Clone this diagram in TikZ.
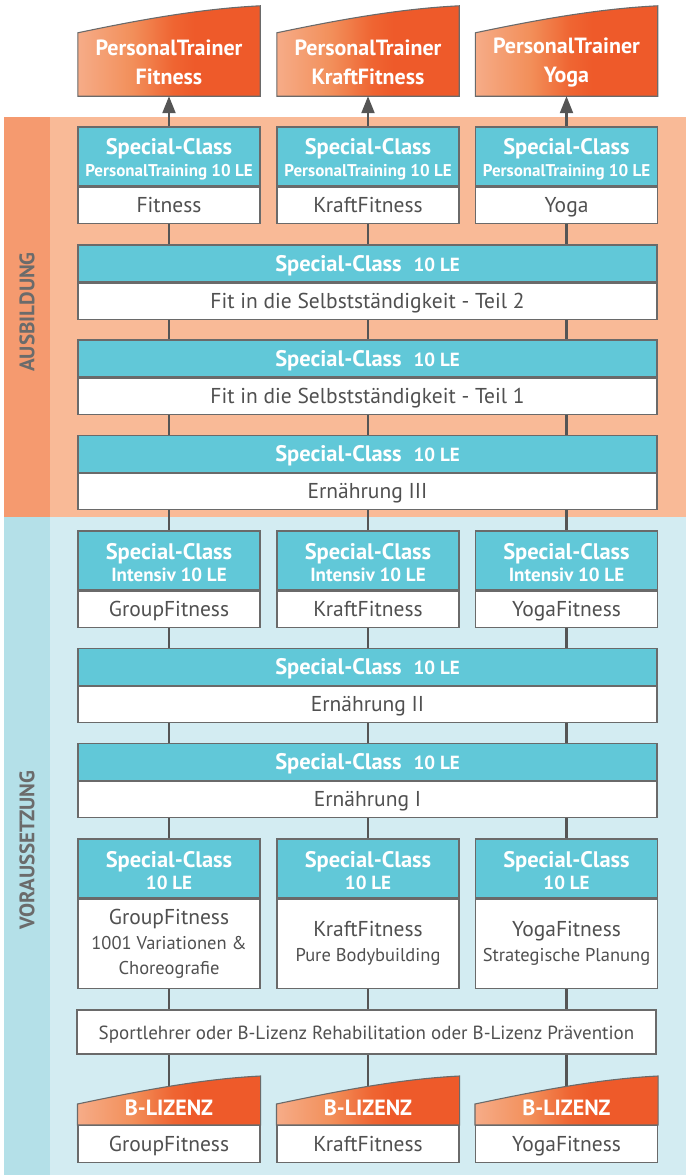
\documentclass[tikz,border=0pt]{standalone}
\usepackage{fontspec}
\setmainfont{PT Sans}
\usetikzlibrary{arrows.meta,calc}
\definecolor{orMain}{HTML}{F9BA97}
\definecolor{orStrip}{HTML}{F59A6F}
\definecolor{blMain}{HTML}{D3ECF2}
\definecolor{blStrip}{HTML}{B4E0E8}
\definecolor{hblue}{HTML}{61C8D8}
\definecolor{bordergray}{HTML}{6A6A6A}
\definecolor{linegray}{HTML}{555555}
\definecolor{txtgray}{HTML}{505050}
\definecolor{labgray}{HTML}{6B6B6B}
\definecolor{tkA}{HTML}{F6AC88}
\definecolor{tkB}{HTML}{F28F5A}
\definecolor{tkC}{HTML}{EF6532}
\definecolor{tkD}{HTML}{EE5A2A}
\pgfdeclarehorizontalshading{tickshade}{100bp}{color(0bp)=(tkA); color(25bp)=(tkA); color(40bp)=(tkB); color(51bp)=(tkC); color(57bp)=(tkD); color(100bp)=(tkD)}
\pgfdeclarelayer{bands}
\pgfdeclarelayer{lines}
\pgfdeclarelayer{shapes}
\pgfsetlayers{bands,lines,shapes,main}
\newcommand\subl{\fontsize{17}{22}\selectfont}
\newcommand\subm{\fontsize{19}{22}\selectfont}
\newcommand\smallbody{\fontsize{18.5}{25}\selectfont}
\newcommand\hstrut{\rule{0pt}{21pt}}
\tikzset{
  conn/.style={draw=linegray, line width=2.2pt},
  hdr/.style={draw=bordergray, line width=1.1pt, fill=hblue, text=white, align=center, inner sep=0pt, font=\bfseries\fontsize{22.5}{22}\selectfont},
  narrowhdr/.style={hdr, minimum width=182, minimum height=59},
  widehdr/.style={hdr, minimum width=579, minimum height=37, text height=16pt, text depth=1pt},
  bodybase/.style={draw=bordergray, line width=1.1pt, fill=white, text=txtgray, align=center, inner sep=0pt, anchor=north, font=\fontsize{21.5}{25}\selectfont},
  bodybox/.style={bodybase, text height=17pt, text depth=2.5pt},
  narrowbody/.style={bodybox, minimum width=182, minimum height=36},
  widebody/.style={bodybox, minimum width=579, minimum height=36},
  bigbody/.style={bodybase, minimum width=182, minimum height=89},
  tkbox/.style={inner sep=0pt, minimum width=182, minimum height=63},
  tktext/.style={text=white, align=center, inner sep=0pt, font=\bfseries\fontsize{22}{29}\selectfont},
  bltext/.style={text=white, inner sep=0pt, font=\bfseries\fontsize{22}{24}\selectfont},
  tickfill/.style={shading=tickshade, draw=bordergray, line width=1.1pt},
  vlabel/.style={text=labgray, rotate=90, font=\bfseries\fontsize{21}{22}\selectfont},
}
\begin{document}
\begin{tikzpicture}[x=1pt, y=-1pt]
\useasboundingbox (0,0) rectangle (686,1175);
% column coordinates
\coordinate (col1) at (169,0);
\coordinate (col2) at (368,0);
\coordinate (col3) at (566.5,0);
% top tickets
\foreach \c/\t in {1/Fitness, 2/KraftFitness, 3/Yoga}{
  \node[tkbox] (tk\c) at (col\c |- 0,64.5) {};
  \node[tktext] (tt\c) at ($(tk\c.center)+(0,-2)$) {PersonalTrainer\\\t};
}
% personal training classes
\foreach \c/\t in {1/Fitness, 2/KraftFitness, 3/Yoga}{
  \node[narrowhdr] (ph\c) at (col\c |- 0,156.5) {\hstrut Special-Class\\{\subl PersonalTraining 10 LE}};
  \node[narrowbody] (pb\c) at (ph\c.south) {\t};
}
% wide boxes
\node[widehdr] (w1h) at (367.5,263.5) {Special-Class\hspace{12pt}{\subm 10 LE}};
\node[widebody] (w1b) at (w1h.south) {Fit in die Selbstständigkeit - Teil 2};
\node[widehdr] (w2h) at (367.5,358.5) {Special-Class\hspace{12pt}{\subm 10 LE}};
\node[widebody] (w2b) at (w2h.south) {Fit in die Selbstständigkeit - Teil 1};
\node[widehdr] (w3h) at (367.5,454) {Special-Class\hspace{12pt}{\subm 10 LE}};
\node[widebody] (w3b) at (w3h.south) {Ernährung III};
% intensiv
\foreach \c/\t in {1/GroupFitness, 2/KraftFitness, 3/YogaFitness}{
  \node[narrowhdr] (ih\c) at (col\c |- 0,560.5) {\hstrut Special-Class\\{\subm Intensiv 10 LE}};
  \node[narrowbody] (ib\c) at (ih\c.south) {\t};
}
\node[widehdr] (w4h) at (367.5,667) {Special-Class\hspace{12pt}{\subm 10 LE}};
\node[widebody] (w4b) at (w4h.south) {Ernährung II};
\node[widehdr] (w5h) at (367.5,762) {Special-Class\hspace{12pt}{\subm 10 LE}};
\node[widebody] (w5b) at (w5h.south) {Ernährung I};
% basic classes
\foreach \c in {1,2,3}{
  \node[narrowhdr] (bh\c) at (col\c |- 0,868.5) {\hstrut Special-Class\\{\subm 10 LE}};
}
\node[bigbody] (bb1) at (bh1.south) {GroupFitness\\{\smallbody 1001 Variationen \&}\\{\smallbody Choreografie}};
\node[bigbody] (bb2) at (bh2.south) {KraftFitness\\{\smallbody Pure Bodybuilding}};
\node[bigbody] (bb3) at (bh3.south) {YogaFitness\\{\smallbody Strategische Planung}};
% requirement
\node[widebody, anchor=center, minimum height=44, font=\fontsize{19}{20}\selectfont] (sp) at (366.5,1032) {Sportlehrer oder B-Lizenz Rehabilitation oder B-Lizenz Prävention};
% bottom tickets
\foreach \c/\t in {1/GroupFitness, 2/KraftFitness, 3/YogaFitness}{
  \node[narrowbody, minimum height=37] (lb\c) at (col\c |- 0,1125) {\t};
  \node[bltext] (lt\c) at ($(lb\c.north)+(0,-17)$) {B-LIZENZ};
}
% side labels
\node[vlabel] (lab1) at (27,312) {AUSBILDUNG};
\node[vlabel] (lab2) at (27,850) {VORAUSSETZUNG};
% bands
\begin{pgfonlayer}{bands}
  \fill[orMain] (4,117) rectangle (686,517);
  \fill[orStrip] (4,117) rectangle (50,517);
  \fill[blMain] (4,517) rectangle (686,1175);
  \fill[blStrip] (4,517) rectangle (50,1175);
\end{pgfonlayer}
% ticket shapes
\begin{pgfonlayer}{shapes}
\foreach \c in {1,2,3}{
  \shadedraw[tickfill] (tk\c.south west) -- (tk\c.north west) .. controls +(62,-13) and +(-60,3) .. ($(tk\c.north east)+(0,-27)$) -- (tk\c.south east) -- cycle;
  \shadedraw[tickfill] (lb\c.north west) -- ++(0,-21) .. controls +(62,-13) and +(-60,3) .. ($(lb\c.north east)+(0,-49)$) -- (lb\c.north east) -- cycle;
}
\end{pgfonlayer}
% connectors
\begin{pgfonlayer}{lines}
\foreach \c in {1,2,3}{
  \draw[conn] (col\c |- pb\c.south) -- (col\c |- w1h.north);
  \draw[conn] (col\c |- w1b.south) -- (col\c |- w2h.north);
  \draw[conn] (col\c |- w2b.south) -- (col\c |- w3h.north);
  \draw[conn] (col\c |- w3b.south) -- (ih\c.north);
  \draw[conn] (ib\c.south) -- (col\c |- w4h.north);
  \draw[conn] (col\c |- w4b.south) -- (col\c |- w5h.north);
  \draw[conn] (col\c |- w5b.south) -- (bh\c.north);
  \draw[conn] (bb\c.south) -- (col\c |- sp.north);
  \draw[conn] (col\c |- sp.south) -- (lb\c.north);
}
\end{pgfonlayer}
\foreach \c in {1,2,3}{
  \draw[conn, -{Triangle[width=13pt, length=17pt]}] (ph\c.north) -- (tk\c.south);
}
\end{tikzpicture}
\end{document}
